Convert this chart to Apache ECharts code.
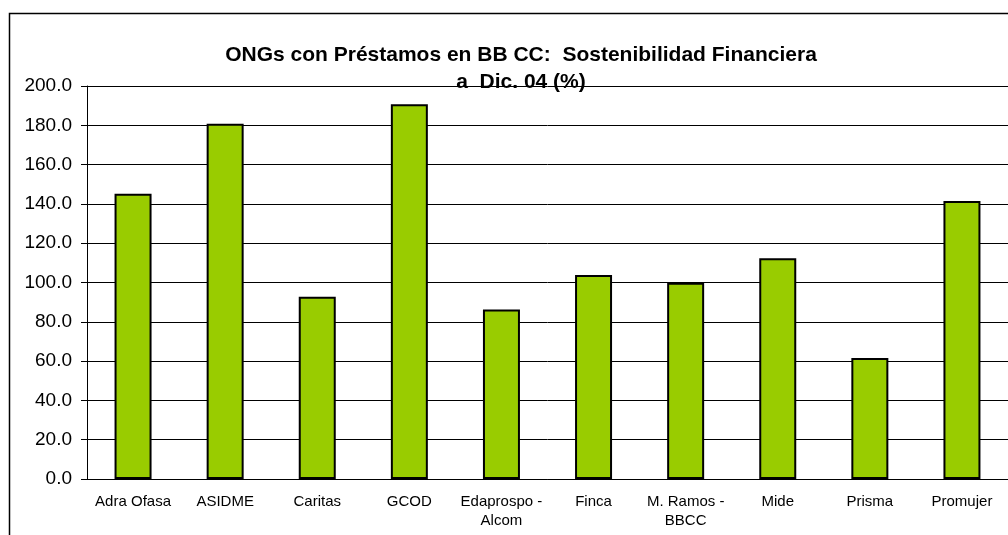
<!DOCTYPE html>
<html>
<head>
<meta charset="utf-8">
<script src="https://cdn.jsdelivr.net/npm/echarts@6/dist/echarts.min.js"></script>
<style>
html, body { margin: 0; padding: 0; background: #fff; }
#chart { width: 1008px; height: 535px; }
</style>
</head>
<body>
<div id="chart"></div>
<script>
// ONGs - sostenibilidad financiera a dic. 04 (%)
var categories = ['Adra Ofasa', 'ASIDME', 'Caritas', 'GCOD', 'Edaprospo -\nAlcom',
	'Finca', 'M. Ramos -\nBBCC', 'Mide', 'Prisma', 'Promujer'];
var sostenibilidad = [145.2, 180.8, 92.8, 190.7, 86.2, 103.8, 99.9, 112.3, 61.6, 141.5];
var yTicks = { min: 0, max: 200, interval: 20 };

var chart = echarts.init(document.getElementById('chart'));

var option = {
	animation: false,
	backgroundColor: '#fff',
	title: {
		text: 'ONGs con Préstamos en BB CC:  Sostenibilidad Financiera\na  Dic. 04 (%)',
		left: 516,
		top: 37,
		textAlign: 'center',
		textStyle: {
			fontFamily: 'Liberation Sans, Arial, sans-serif',
			fontSize: 21,
			fontWeight: 'bold',
			color: '#000',
			lineHeight: 27
		}
	},
	graphic: [{
		type: 'rect',
		left: 7,
		top: 11,
		shape: { width: 1200, height: 700 },
		style: { fill: 'none', stroke: '#000', lineWidth: 1.5 },
		silent: true,
		z: -1
	}],
	grid: {
		left: 87,
		top: 86,
		right: -5,
		bottom: 56,
		containLabel: false
	},
	xAxis: {
		type: 'category',
		data: categories,
		axisLine: { show: true, lineStyle: { color: '#000', width: 1 } },
		axisTick: { show: false },
		axisLabel: {
			interval: 0,
			margin: 13,
			color: '#000',
			fontFamily: 'Liberation Sans, Arial, sans-serif',
			fontSize: 15,
			lineHeight: 19
		}
	},
	yAxis: {
		type: 'value',
		min: yTicks.min,
		max: yTicks.max,
		interval: yTicks.interval,
		axisLine: { show: true, lineStyle: { color: '#000', width: 1 } },
		axisTick: { show: true, length: 6, lineStyle: { color: '#000' } },
		axisLabel: {
			margin: 15,
			color: '#000',
			fontFamily: 'Liberation Sans, Arial, sans-serif',
			fontSize: 19,
			formatter: function (v) { return v.toFixed(1); }
		},
		splitLine: { show: true, lineStyle: { color: '#000', width: 1 } }
	},
	series: [{
		type: 'bar',
		data: sostenibilidad,
		barWidth: 37,
		itemStyle: {
			color: '#99CC00',
			borderColor: '#000',
			borderWidth: 2
		}
	}]
};

chart.setOption(option);
</script>
</body>
</html>
